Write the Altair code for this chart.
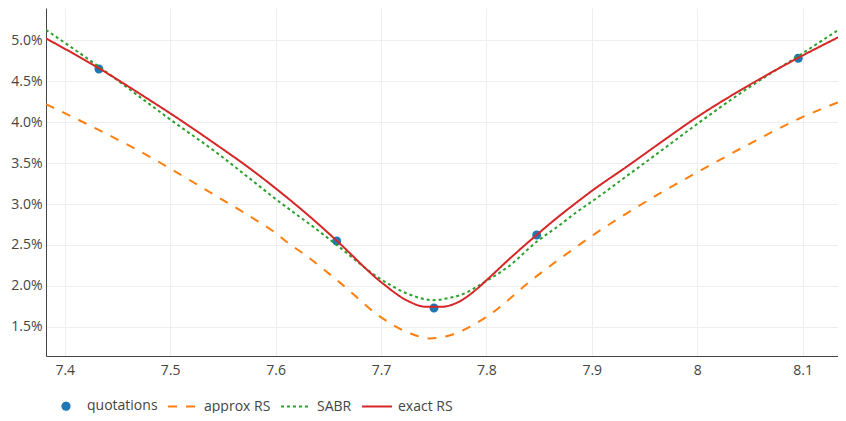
import altair as alt
import pandas as pd

series_order = ["quotations", "approx RS", "SABR", "exact RS"]
series_colors = ["#1f77b4", "#ff7f0e", "#2ca02c", "#d62728"]

quote_x = [7.4324, 7.6580, 7.7503, 7.8477, 8.0959]
quote_y = [4.652, 2.549, 1.730, 2.622, 4.782]

exact_x = [7.3822, 7.4318, 7.481, 7.5, 7.5445, 7.5762, 7.6003, 7.6397, 7.658, 7.7016,
           7.7254, 7.7429, 7.7571, 7.773, 7.7889, 7.8003, 7.8207, 7.8477, 7.8697, 7.8841,
           7.8999, 7.9329, 7.9645, 7.9995, 8.0434, 8.0959, 8.1412]
exact_y = [5.025, 4.665, 4.268, 4.11, 3.72, 3.43, 3.19, 2.766, 2.553, 2.031,
           1.817, 1.744, 1.744, 1.80, 1.94, 2.071, 2.316, 2.623, 2.86, 3.005,
           3.16, 3.455, 3.745, 4.06, 4.41, 4.788, 5.086]

sabr_x = [7.3822, 7.4318, 7.481, 7.5, 7.5445, 7.5762, 7.6003, 7.6397, 7.658, 7.6995,
          7.7245, 7.7497, 7.7656, 7.7751, 7.8003, 7.8207, 7.8477, 7.8697, 7.8841, 7.8999,
          7.9329, 7.9645, 7.9995, 8.045, 8.0959, 8.1412]
sabr_y = [5.129, 4.685, 4.216, 4.035, 3.624, 3.305, 3.06, 2.684, 2.50, 2.085,
          1.908, 1.826, 1.855, 1.887, 2.063, 2.234, 2.54, 2.745, 2.888, 3.03,
          3.34, 3.64, 3.975, 4.39, 4.81, 5.19]

approx_x = [7.3822, 7.4318, 7.4857, 7.5, 7.5445, 7.5762, 7.6003, 7.6143, 7.6238, 7.6619,
            7.6995, 7.7281, 7.7465, 7.7656, 7.7952, 7.8048, 7.8429, 7.8825, 7.9, 7.9286,
            7.9645, 7.9995, 8.0466, 8.0959, 8.1408]
approx_y = [4.222, 3.909, 3.542, 3.435, 3.092, 2.847, 2.643, 2.50, 2.418, 2.031,
            1.621, 1.418, 1.357, 1.397, 1.581, 1.663, 2.071, 2.45, 2.61, 2.85,
            3.13, 3.385, 3.715, 4.04, 4.28]

x_ticks = [7.4, 7.5, 7.6, 7.7, 7.8, 7.9, 8.0, 8.1]
y_ticks = [1.5, 2.0, 2.5, 3.0, 3.5, 4.0, 4.5, 5.0]

points = pd.DataFrame({"x": quote_x, "y": quote_y, "series": "quotations"})
lines = pd.concat([
    pd.DataFrame({"x": approx_x, "y": approx_y, "series": "approx RS"}),
    pd.DataFrame({"x": sabr_x, "y": sabr_y, "series": "SABR"}),
    pd.DataFrame({"x": exact_x, "y": exact_y, "series": "exact RS"}),
])

legend = alt.Legend(
    orient="none", legendX=4, legendY=382, direction="horizontal", title=None,
    symbolSize=900, symbolStrokeWidth=2, labelFontSize=14, labelColor="#444",
    labelFont="Open Sans", labelOffset=5, columnPadding=6, padding=0,
)

circ = "M-0.24,0A0.24,0.24,0,1,0,0.24,0A0.24,0.24,0,1,0,-0.24,0Z"

x_enc = alt.X("x:Q", scale=alt.Scale(domain=[7.3822, 8.1336], nice=False, zero=False),
              axis=alt.Axis(values=x_ticks, format="~g", title=None, labelPadding=7))
y_enc = alt.Y("y:Q", scale=alt.Scale(domain=[1.143, 5.397], nice=False, zero=False),
              axis=alt.Axis(values=y_ticks, title=None, labelPadding=4,
                            labelExpr="format(datum.value, '.1f') + '%'"))
color_enc = alt.Color("series:N", scale=alt.Scale(domain=series_order, range=series_colors),
                      legend=legend)
dash_enc = alt.StrokeDash("series:N", scale=alt.Scale(domain=series_order,
                          range=[[1, 0], [9, 9], [3, 3], [1, 0]]), legend=legend)
shape_enc = alt.Shape("series:N", scale=alt.Scale(domain=series_order,
                      range=[circ, "stroke", "stroke", "stroke"]), legend=legend)

pt_layer = alt.Chart(points).mark_point(filled=True, size=1400, opacity=1, strokeWidth=0).encode(
    x=x_enc, y=y_enc, color=color_enc, shape=shape_enc)

line_layer = alt.Chart(lines).mark_line(strokeWidth=2, interpolate="monotone", clip=True).encode(
    x=x_enc, y=y_enc, color=color_enc, strokeDash=dash_enc)

chart = alt.layer(pt_layer, line_layer).properties(
    width=792, height=348,
    autosize=alt.AutoSizeParams(type="none"),
    padding={"left": 38, "top": 0, "right": 0, "bottom": 57},
).configure_view(stroke=None).configure_axis(
    domainColor="#444", domainWidth=1, gridColor="#eee", gridWidth=1, ticks=False,
    labelFont="Open Sans", labelFontSize=14, labelColor="#444",
)

chart.save("out.html", embed_options={"renderer": "svg", "actions": False})
